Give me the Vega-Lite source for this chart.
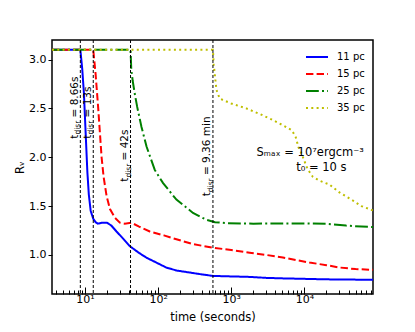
{
  "$schema": "https://vega.github.io/schema/vega-lite/v6.json",
  "width": 321,
  "height": 254,
  "autosize": {"type": "none"},
  "padding": {"left": 52, "top": 40, "right": 42, "bottom": 38},
  "background": "white",
  "config": {
    "font": "DejaVu Sans",
    "view": {"stroke": "black", "strokeWidth": 1.5},
    "axis": {"grid": false, "domain": false, "labelColor": "black", "titleColor": "black", "tickColor": "black", "titleFontWeight": "normal"}
  },
  "datasets": {
    "curves": [
      {"t": 3.55, "R": 3.1, "s": "11 pc"}, {"t": 8.66, "R": 3.1, "s": "11 pc"}, {"t": 9.2, "R": 2.9, "s": "11 pc"}, {"t": 9.7, "R": 2.65, "s": "11 pc"}, {"t": 10.3, "R": 2.2, "s": "11 pc"}, {"t": 10.8, "R": 1.85, "s": "11 pc"}, {"t": 11.3, "R": 1.62, "s": "11 pc"}, {"t": 12.0, "R": 1.45, "s": "11 pc"}, {"t": 13.0, "R": 1.37, "s": "11 pc"}, {"t": 14, "R": 1.335, "s": "11 pc"}, {"t": 15, "R": 1.32, "s": "11 pc"}, {"t": 17, "R": 1.33, "s": "11 pc"}, {"t": 20, "R": 1.33, "s": "11 pc"}, {"t": 23, "R": 1.3, "s": "11 pc"}, {"t": 27, "R": 1.24, "s": "11 pc"}, {"t": 33, "R": 1.17, "s": "11 pc"}, {"t": 41, "R": 1.09, "s": "11 pc"}, {"t": 55, "R": 1.02, "s": "11 pc"}, {"t": 70, "R": 0.97, "s": "11 pc"}, {"t": 90, "R": 0.93, "s": "11 pc"}, {"t": 130, "R": 0.87, "s": "11 pc"}, {"t": 180, "R": 0.84, "s": "11 pc"}, {"t": 270, "R": 0.82, "s": "11 pc"}, {"t": 400, "R": 0.8, "s": "11 pc"}, {"t": 563, "R": 0.785, "s": "11 pc"}, {"t": 1000, "R": 0.78, "s": "11 pc"}, {"t": 1800, "R": 0.775, "s": "11 pc"}, {"t": 3000, "R": 0.765, "s": "11 pc"}, {"t": 5000, "R": 0.76, "s": "11 pc"}, {"t": 10000, "R": 0.755, "s": "11 pc"}, {"t": 20000, "R": 0.75, "s": "11 pc"}, {"t": 40000, "R": 0.748, "s": "11 pc"}, {"t": 86400, "R": 0.745, "s": "11 pc"},
      {"t": 3.55, "R": 3.1, "s": "15 pc"}, {"t": 13, "R": 3.1, "s": "15 pc"}, {"t": 14, "R": 2.85, "s": "15 pc"}, {"t": 15.2, "R": 2.5, "s": "15 pc"}, {"t": 16.9, "R": 2.0, "s": "15 pc"}, {"t": 18, "R": 1.8, "s": "15 pc"}, {"t": 19.8, "R": 1.6, "s": "15 pc"}, {"t": 22, "R": 1.47, "s": "15 pc"}, {"t": 25.7, "R": 1.38, "s": "15 pc"}, {"t": 30, "R": 1.33, "s": "15 pc"}, {"t": 35, "R": 1.32, "s": "15 pc"}, {"t": 43, "R": 1.33, "s": "15 pc"}, {"t": 55, "R": 1.29, "s": "15 pc"}, {"t": 77, "R": 1.24, "s": "15 pc"}, {"t": 120, "R": 1.2, "s": "15 pc"}, {"t": 178, "R": 1.16, "s": "15 pc"}, {"t": 300, "R": 1.11, "s": "15 pc"}, {"t": 563, "R": 1.074, "s": "15 pc"}, {"t": 1000, "R": 1.05, "s": "15 pc"}, {"t": 1783, "R": 1.023, "s": "15 pc"}, {"t": 3000, "R": 1.0, "s": "15 pc"}, {"t": 5070, "R": 0.973, "s": "15 pc"}, {"t": 8000, "R": 0.945, "s": "15 pc"}, {"t": 11700, "R": 0.922, "s": "15 pc"}, {"t": 20000, "R": 0.895, "s": "15 pc"}, {"t": 30100, "R": 0.871, "s": "15 pc"}, {"t": 50000, "R": 0.855, "s": "15 pc"}, {"t": 86400, "R": 0.847, "s": "15 pc"},
      {"t": 3.55, "R": 3.1, "s": "25 pc"}, {"t": 42, "R": 3.1, "s": "25 pc"}, {"t": 43, "R": 2.9, "s": "25 pc"}, {"t": 45, "R": 2.78, "s": "25 pc"}, {"t": 48, "R": 2.65, "s": "25 pc"}, {"t": 51.8, "R": 2.515, "s": "25 pc"}, {"t": 59.3, "R": 2.31, "s": "25 pc"}, {"t": 69.5, "R": 2.11, "s": "25 pc"}, {"t": 90, "R": 1.87, "s": "25 pc"}, {"t": 117, "R": 1.735, "s": "25 pc"}, {"t": 178, "R": 1.566, "s": "25 pc"}, {"t": 300, "R": 1.43, "s": "25 pc"}, {"t": 455, "R": 1.36, "s": "25 pc"}, {"t": 600, "R": 1.335, "s": "25 pc"}, {"t": 860, "R": 1.325, "s": "25 pc"}, {"t": 2000, "R": 1.32, "s": "25 pc"}, {"t": 5000, "R": 1.322, "s": "25 pc"}, {"t": 10000, "R": 1.322, "s": "25 pc"}, {"t": 20000, "R": 1.318, "s": "25 pc"}, {"t": 37000, "R": 1.3, "s": "25 pc"}, {"t": 60000, "R": 1.29, "s": "25 pc"}, {"t": 86400, "R": 1.285, "s": "25 pc"},
      {"t": 3.55, "R": 3.1, "s": "35 pc"}, {"t": 561.6, "R": 3.1, "s": "35 pc"}, {"t": 575, "R": 2.95, "s": "35 pc"}, {"t": 593, "R": 2.86, "s": "35 pc"}, {"t": 627, "R": 2.69, "s": "35 pc"}, {"t": 695, "R": 2.6, "s": "35 pc"}, {"t": 1000, "R": 2.55, "s": "35 pc"}, {"t": 1600, "R": 2.5, "s": "35 pc"}, {"t": 2500, "R": 2.44, "s": "35 pc"}, {"t": 3700, "R": 2.38, "s": "35 pc"}, {"t": 5000, "R": 2.33, "s": "35 pc"}, {"t": 6600, "R": 2.28, "s": "35 pc"}, {"t": 7500, "R": 2.22, "s": "35 pc"}, {"t": 8300, "R": 2.1, "s": "35 pc"}, {"t": 9200, "R": 2.03, "s": "35 pc"}, {"t": 11000, "R": 1.88, "s": "35 pc"}, {"t": 13000, "R": 1.8, "s": "35 pc"}, {"t": 16000, "R": 1.76, "s": "35 pc"}, {"t": 22000, "R": 1.72, "s": "35 pc"}, {"t": 30000, "R": 1.64, "s": "35 pc"}, {"t": 45000, "R": 1.56, "s": "35 pc"}, {"t": 60000, "R": 1.5, "s": "35 pc"}, {"t": 86400, "R": 1.455, "s": "35 pc"}
    ],
    "disr": [
      {"t": 8.66, "ly": 2.19, "lab": "= 8.66s"},
      {"t": 13, "ly": 2.19, "lab": "= 13s"},
      {"t": 42, "ly": 1.75, "lab": "= 42s"},
      {"t": 561.6, "ly": 1.6, "lab": "= 9.36 min"}
    ],
    "notes": [
      {"t": 12000, "R": 2.04, "txt": "Sₘₐₓ = 10⁷ergcm⁻³"},
      {"t": 17000, "R": 1.89, "txt": "t₀ = 10 s"}
    ]
  },
  "layer": [
    {
      "data": {"name": "curves"},
      "mark": {"type": "line", "strokeWidth": 2, "clip": true},
      "encoding": {
        "x": {
          "field": "t", "type": "quantitative",
          "scale": {"type": "log", "domain": [3.55, 86400], "nice": false},
          "axis": {
            "title": "time (seconds)", "titleFontSize": 11.5, "titlePadding": 4,
            "labelFontSize": 11, "labelPadding": 6, "labelOverlap": false, "labelFlush": false,
            "labelExpr": "datum.value == 10 ? '10¹' : datum.value == 100 ? '10²' : datum.value == 1000 ? '10³' : datum.value == 10000 ? '10⁴' : ''",
            "tickSize": {"condition": {"test": "datum.value == 10 || datum.value == 100 || datum.value == 1000 || datum.value == 10000", "value": -7}, "value": -4},
            "tickWidth": 1
          }
        },
        "y": {
          "field": "R", "type": "quantitative",
          "scale": {"domain": [0.6, 3.2], "nice": false, "zero": false},
          "axis": {"title": "Rᵥ", "titleFontSize": 11.5, "titlePadding": 3, "values": [1, 1.5, 2, 2.5, 3], "format": ".1f", "labelFontSize": 11, "tickSize": 4, "labelPadding": 2}
        },
        "color": {
          "field": "s", "type": "nominal",
          "scale": {"domain": ["11 pc", "15 pc", "25 pc", "35 pc"], "range": ["#0000ff", "#ff0000", "#008000", "#bfbf00"]},
          "legend": {"title": null, "orient": "none", "legendX": 253, "legendY": 5, "symbolType": "stroke", "symbolSize": 484, "symbolStrokeWidth": 2, "labelFontSize": 10, "labelColor": "black", "labelOffset": 8, "rowPadding": -10}
        },
        "strokeDash": {
          "field": "s", "type": "nominal",
          "scale": {"domain": ["11 pc", "15 pc", "25 pc", "35 pc"], "range": [[1, 0], [7.4, 3.2], [12.8, 3.2, 2, 3.2], [2, 3.3]]},
          "legend": {"title": null, "orient": "none", "legendX": 253, "legendY": 5, "symbolType": "stroke", "symbolSize": 484, "symbolStrokeWidth": 2, "labelFontSize": 10, "labelColor": "black", "labelOffset": 8, "rowPadding": -10}
        }
      }
    },
    {
      "data": {"name": "disr"},
      "mark": {"type": "rule", "strokeDash": [3, 2], "strokeWidth": 1, "color": "black"},
      "encoding": {"x": {"field": "t", "type": "quantitative"}}
    },
    {
      "data": {"name": "disr"},
      "mark": {"type": "text", "angle": 270, "align": "left", "baseline": "alphabetic", "fontSize": 10.5, "dx": 0, "dy": -2.5, "text": "t", "color": "black"},
      "encoding": {"x": {"field": "t", "type": "quantitative"}, "y": {"field": "ly", "type": "quantitative"}}
    },
    {
      "data": {"name": "disr"},
      "mark": {"type": "text", "angle": 270, "align": "left", "baseline": "alphabetic", "fontSize": 7.5, "dx": 4.1, "dy": 0, "text": "disr", "color": "black"},
      "encoding": {"x": {"field": "t", "type": "quantitative"}, "y": {"field": "ly", "type": "quantitative"}}
    },
    {
      "data": {"name": "disr"},
      "mark": {"type": "text", "angle": 270, "align": "left", "baseline": "alphabetic", "fontSize": 10.5, "dx": 21.2, "dy": -2.5, "color": "black"},
      "encoding": {"x": {"field": "t", "type": "quantitative"}, "y": {"field": "ly", "type": "quantitative"}, "text": {"field": "lab"}}
    },
    {
      "data": {"name": "notes"},
      "mark": {"type": "text", "align": "center", "baseline": "middle", "fontSize": 11.5, "color": "black"},
      "encoding": {"x": {"field": "t", "type": "quantitative"}, "y": {"field": "R", "type": "quantitative"}, "text": {"field": "txt"}}
    }
  ]
}
